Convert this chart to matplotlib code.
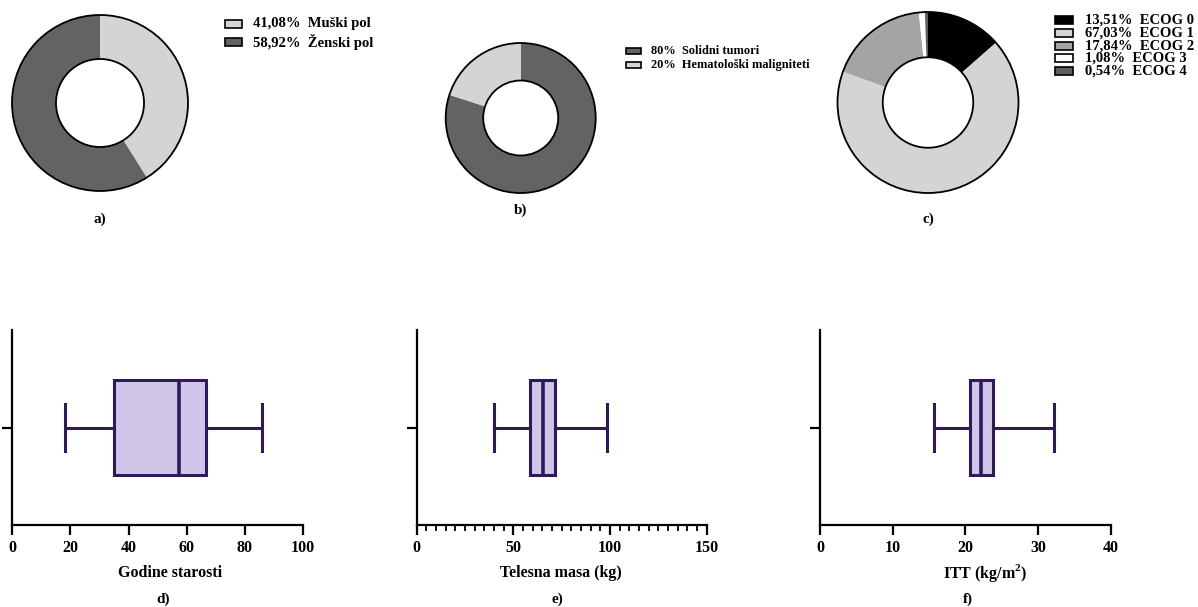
import matplotlib.pyplot as plt
from matplotlib.patches import Circle, Rectangle
from matplotlib.ticker import MultipleLocator

W, H = 1198, 607

plt.rcParams['font.family'] = ['Liberation Serif', 'DejaVu Serif']
plt.rcParams['font.weight'] = 'bold'
plt.rcParams['mathtext.fontset'] = 'custom'
plt.rcParams['mathtext.rm'] = 'Liberation Serif:bold'
plt.rcParams['mathtext.bf'] = 'Liberation Serif:bold'

# a) pol
pol_labels = ['Muški pol', 'Ženski pol']
pol_pct = [41.08, 58.92]
pol_colors = ['#d4d4d4', '#636363']

# b) vrsta maligniteta
tumor_labels = ['Solidni tumori', 'Hematološki maligniteti']
tumor_pct = [80, 20]
tumor_colors = ['#636363', '#d4d4d4']

# c) ECOG status
ecog_labels = ['ECOG 0', 'ECOG 1', 'ECOG 2', 'ECOG 3', 'ECOG 4']
ecog_pct = [13.51, 67.03, 17.84, 1.08, 0.54]
ecog_colors = ['#000000', '#d4d4d4', '#a4a4a4', '#ffffff', '#5e5e5e']

# d-f) min, Q1, medijana, Q3, max
age_stats = [18.3, 35.0, 57.3, 66.5, 86.0]
mass_stats = [40.1, 58.4, 65.5, 71.5, 98.3]
itt_stats = [15.7, 20.6, 22.1, 23.8, 32.2]

box_face = '#d0c6ea'
box_edge = '#2e1a5a'

fig = plt.figure(figsize=(W / 100, H / 100), dpi=100)


def px_rect(x, y, w, h):
    # pixel box (top-left origin) -> figure fraction
    return [x / W, 1 - (y + h) / H, w / W, h / H]


def pct_text(p):
    return f'{p:g}'.replace('.', ',') + '%'


def donut(cx, cy, r, values, colors):
    pad = 1.04
    ax = fig.add_axes(px_rect(cx - r * pad, cy - r * pad, 2 * r * pad, 2 * r * pad))
    ax.pie(values, colors=colors, startangle=90, counterclock=False,
           radius=1, wedgeprops=dict(width=0.5, linewidth=0))
    ax.add_patch(Circle((0, 0), 1, fill=False, ec='black', lw=1.3))
    ax.add_patch(Circle((0, 0), 0.5, fill=False, ec='black', lw=1.3))
    ax.set_xlim(-pad, pad)
    ax.set_ylim(-pad, pad)
    ax.set_aspect('equal')
    ax.axis('off')


def legend(x, y, step, colors, labels, size, hw, hh, tx):
    for i, (c, lab) in enumerate(zip(colors, labels)):
        yc = y + i * step
        fig.patches.append(Rectangle((x / W, 1 - (yc + hh / 2) / H), hw / W, hh / H,
                                     transform=fig.transFigure, figure=fig,
                                     fc=c, ec='black', lw=1.2))
        fig.text(tx / W, 1 - yc / H, lab, va='center', ha='left',
                 fontsize=size, fontweight='bold')


donut(100, 103, 88, pol_pct, pol_colors)
legend(225, 24, 18, pol_colors,
       [f'{pct_text(p)}  {n}' for p, n in zip(pol_pct, pol_labels)],
       10.5, 17, 8, 253)
fig.text(100 / W, 1 - 219 / H, 'a)', ha='center', va='center', fontsize=11)

donut(520.7, 118, 75, tumor_pct, tumor_colors)
legend(626, 51, 14, tumor_colors,
       [f'{pct_text(p)}  {n}' for p, n in zip(tumor_pct, tumor_labels)],
       8.9, 15, 6, 651)
fig.text(520.7 / W, 1 - 210 / H, 'b)', ha='center', va='center', fontsize=11)

donut(928, 102.5, 90.5, ecog_pct, ecog_colors)
legend(1055, 20, 12.8, ecog_colors,
       [f'{pct_text(p)}  {n}' for p, n in zip(ecog_pct, ecog_labels)],
       10.5, 18, 8, 1085)
fig.text(928 / W, 1 - 219 / H, 'c)', ha='center', va='center', fontsize=11)


def boxplot(left, right, stats, xmax, step, xlabel, label_x, letter, letter_x, minor=None):
    top, bottom = 330, 525
    ax = fig.add_axes(px_rect(left, top, right - left, bottom - top))
    lo, q1, med, q3, hi = stats
    ax.bxp([dict(whislo=lo, q1=q1, med=med, q3=q3, whishi=hi, fliers=[])],
           positions=[1], widths=0.98, capwidths=0.49, orientation='horizontal',
           patch_artist=True, showfliers=False,
           boxprops=dict(facecolor=box_face, edgecolor=box_edge, linewidth=2.2),
           medianprops=dict(color=box_edge, linewidth=2.6),
           whiskerprops=dict(color=box_edge, linewidth=2.2),
           capprops=dict(color=box_edge, linewidth=2.2))
    ax.set_xlim(0, xmax)
    ax.set_ylim(0, 2)
    ax.xaxis.set_major_locator(MultipleLocator(step))
    if minor:
        ax.xaxis.set_minor_locator(MultipleLocator(minor))
    ax.set_yticks([1])
    ax.set_yticklabels([])
    for s in ('top', 'right'):
        ax.spines[s].set_visible(False)
    for s in ('left', 'bottom'):
        ax.spines[s].set_linewidth(1.6)
    ax.tick_params(which='major', length=7, width=1.6, labelsize=11.5, pad=4)
    ax.tick_params(which='minor', length=4, width=1.3)
    for t in ax.get_xticklabels():
        t.set_fontweight('bold')
    ax.set_xlabel(xlabel, fontsize=11.5, fontweight='bold')
    ax.xaxis.set_label_coords((label_x - left) / (right - left), -(573 - bottom) / (bottom - top),
                              transform=ax.transAxes)
    ax.xaxis.label.set_va('center')
    fig.text(letter_x / W, 1 - 599 / H, letter, ha='center', va='center', fontsize=11)


boxplot(12.3, 303, age_stats, 100, 20, 'Godine starosti', 170, 'd)', 163)
boxplot(416.7, 706.7, mass_stats, 150, 50, 'Telesna masa (kg)', 561, 'e)', 557, minor=5)
boxplot(820, 1110.7, itt_stats, 40, 10, r'ITT (kg/m$^{2}$)', 985, 'f)', 968)

fig.savefig('out.png', dpi=100)
